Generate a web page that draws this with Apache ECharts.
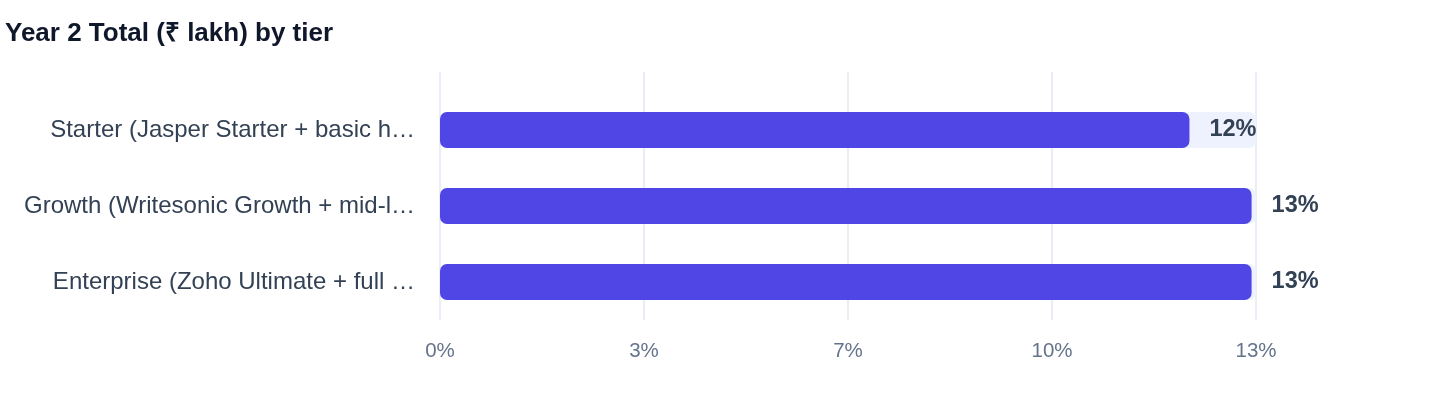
<!DOCTYPE html>
<html>
<head>
<meta charset="utf-8">
<script src="https://cdn.jsdelivr.net/npm/echarts@6/dist/echarts.min.js"></script>
<style>
  html, body { margin: 0; padding: 0; background: #fff; }
  #chart { width: 1440px; height: 408px; }
</style>
</head>
<body>
<div id="chart"></div>
<script>
// 数据
var tiers = [
    'Starter (Jasper Starter + basic hosting and support)',
    'Growth (Writesonic Growth + mid-level hosting and support)',
    'Enterprise (Zoho Ultimate + full managed services)'
];
var totals = [11.94, 12.93, 12.93];
var axisMax = 13;
var axisStep = 3.25;

var font = '"Liberation Sans", Arial, Helvetica, sans-serif';

// 截断分类名称
function shortName(name) {
    return name.length > 34 ? name.slice(0, 33) + '…' : name;
}

var dom = document.getElementById('chart');
var myChart = echarts.init(dom);

var option = {
    animation: false,
    title: {
        text: 'Year 2 Total (₹ lakh) by tier',
        left: 0,
        top: 16,
        textStyle: {
            fontFamily: font,
            fontSize: 26,
            fontWeight: 'bold',
            color: '#0f172a'
        }
    },
    grid: [
        // bars
        { left: 440, right: 184, top: 92, bottom: 88 },
        // split lines + x labels (taller than bar grid)
        { left: 440, right: 184, top: 72, bottom: 88 }
    ],
    xAxis: [
        {
            gridIndex: 0,
            type: 'value',
            min: 0,
            max: axisMax,
            interval: axisStep,
            show: false
        },
        {
            gridIndex: 1,
            type: 'value',
            min: 0,
            max: axisMax,
            interval: axisStep,
            axisLine: { show: false },
            axisTick: { show: false },
            splitLine: { lineStyle: { color: '#e2e8f0', width: 1.5 } },
            axisLabel: {
                margin: 21,
                fontFamily: font,
                fontSize: 20.5,
                color: '#64748b',
                formatter: function (v) {
                    return Math.round(v) + '%';
                }
            }
        }
    ],
    yAxis: [
        {
            gridIndex: 0,
            type: 'category',
            inverse: true,
            data: tiers,
            axisLine: { show: false },
            axisTick: { show: false },
            axisLabel: {
                margin: 25,
                fontFamily: font,
                fontSize: 24,
                color: '#334155',
                formatter: shortName
            }
        },
        {
            gridIndex: 1,
            type: 'value',
            show: false
        }
    ],
    series: [
        {
            type: 'bar',
            xAxisIndex: 0,
            yAxisIndex: 0,
            data: totals,
            barWidth: 36,
            showBackground: true,
            backgroundStyle: { color: '#eef2ff', borderRadius: 7 },
            itemStyle: { color: '#4f46e5', borderRadius: 7 },
            label: {
                show: true,
                position: 'right',
                distance: 20,
                fontFamily: font,
                fontSize: 23.5,
                fontWeight: 'bold',
                color: '#334155',
                formatter: function (p) {
                    return Math.round(p.value) + '%';
                }
            }
        }
    ]
};

myChart.setOption(option);
</script>
</body>
</html>
